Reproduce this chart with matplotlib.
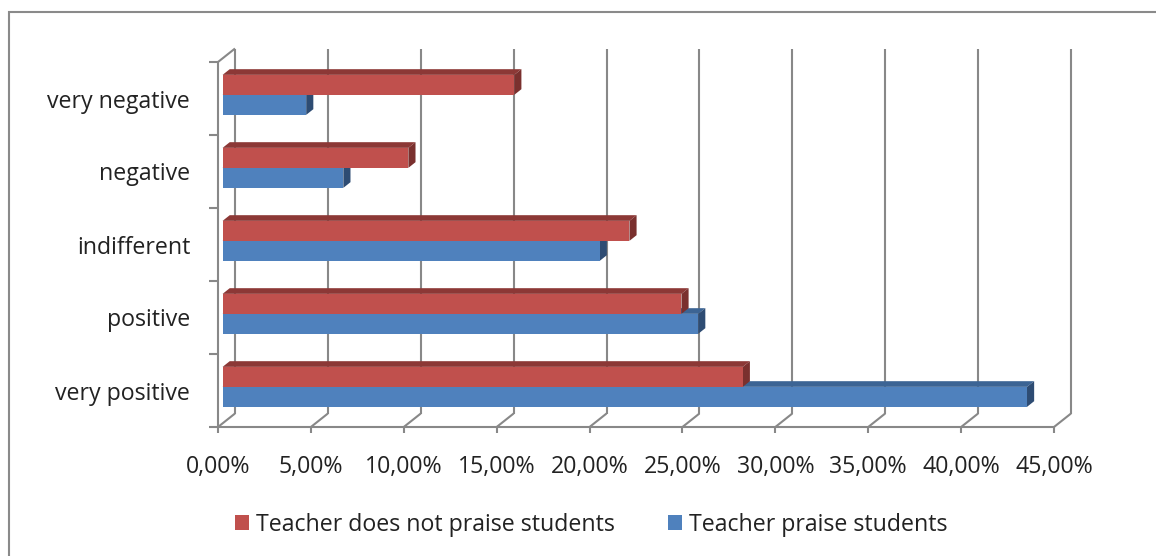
import matplotlib
matplotlib.use("Agg")
import matplotlib.pyplot as plt
from matplotlib.patches import Polygon, Rectangle
from matplotlib.ticker import FixedLocator, FuncFormatter, NullFormatter

# ---- data ----
categories = ["very positive", "positive", "indifferent", "negative", "very negative"]
praise = [43.3, 25.6, 20.3, 6.5, 4.5]            # Teacher praise students (%)
no_praise = [28.0, 24.7, 21.9, 10.0, 15.7]       # Teacher does not praise students (%)
series_names = ["Teacher does not praise students", "Teacher praise students"]
x_ticks = [0, 5, 10, 15, 20, 25, 30, 35, 40, 45]

# ---- style ----
plt.rcParams['font.family'] = ['Open Sans', 'DejaVu Sans']
FS = 16.7
GRID = '#888888'
TXT = '#222222'
RED = ('#C0504D', '#8C3836', '#7A302E')     # front, top, side
BLUE = ('#4F81BD', '#3C6494', '#2E4C73')

W, H = 1156, 556
fig = plt.figure(figsize=(W / 100, H / 100), dpi=100)
ax = fig.add_axes([218 / W, (H - 427) / H, (1054 - 218) / W, (427 - 62) / H])
xmax = x_ticks[-1]
ncat = len(categories)
ax.set_xlim(0, xmax)
ax.set_ylim(0, ncat)
for s in ax.spines.values():
    s.set_visible(False)
ax.patch.set_visible(False)

# depth of the 3D box in data units
DX = 17 / ((1054 - 218) / xmax)
DY = 13.5 / ((427 - 62) / ncat)

lk = dict(color=GRID, lw=1.5, clip_on=False, solid_capstyle='butt', zorder=1)
# back wall gridlines
for v in x_ticks:
    ax.plot([v + DX, v + DX], [DY, ncat + DY], **lk)
    ax.plot([v, v + DX], [0, DY], **lk)
# front floor edge and left wall front edge
ax.plot([0, xmax], [0, 0], **lk)
ax.plot([0, 0], [0, ncat], **lk)
ax.plot([0, DX], [ncat, ncat + DY], **lk)

# ---- bars ----
F0 = 0.27          # depth fraction where bar front face sits
BD = 0.42          # bar depth fraction
HB = 20.0 / ((427 - 62) / ncat)
bdx, bdy = BD * DX, BD * DY


def bar3d(x0, y0, length, h, cols, z):
    x1, y1 = x0 + length, y0 + h
    ax.add_patch(Polygon([(x0, y1), (x1, y1), (x1 + bdx, y1 + bdy), (x0 + bdx, y1 + bdy)],
                         closed=True, facecolor=cols[1], edgecolor='none', clip_on=False, zorder=z))
    ax.add_patch(Polygon([(x1, y0), (x1, y1), (x1 + bdx, y1 + bdy), (x1 + bdx, y0 + bdy)],
                         closed=True, facecolor=cols[2], edgecolor='none', clip_on=False, zorder=z))
    ax.add_patch(Rectangle((x0, y0), length, h, facecolor=cols[0], edgecolor='none',
                           clip_on=False, zorder=z + 0.1))


for i in range(ncat):
    yc = i + 0.5 + F0 * DY
    x0 = F0 * DX
    bar3d(x0, yc - HB, praise[i], HB, BLUE, 3 + i * 0.01)
    bar3d(x0, yc, no_praise[i], HB, RED, 3.5 + i * 0.01)

# ---- axes ticks and labels ----
ax.set_xticks(x_ticks)
ax.xaxis.set_major_formatter(FuncFormatter(lambda v, p: f"{v:.2f}".replace('.', ',') + '%'))
ax.tick_params(axis='x', direction='out', length=4.5, width=1.5, color=GRID,
               labelsize=FS, labelcolor=TXT, pad=15.5)

ax.yaxis.set_major_locator(FixedLocator(range(ncat + 1)))
ax.yaxis.set_major_formatter(NullFormatter())
ax.yaxis.set_minor_locator(FixedLocator([i + 0.5 for i in range(ncat)]))
ax.yaxis.set_minor_formatter(FuncFormatter(lambda v, p: categories[int(v)]))
ax.tick_params(axis='y', which='major', direction='out', length=6.5, width=1.5, color=GRID)
ax.tick_params(axis='y', which='minor', length=0, labelsize=FS, labelcolor=TXT, pad=20)

# ---- legend ----
handles = [Rectangle((0, 0), 1, 1, facecolor=RED[0]), Rectangle((0, 0), 1, 1, facecolor=BLUE[0])]
fig.legend(handles, series_names, loc='center', bbox_to_anchor=(591.5 / W, 31 / H),
           ncol=2, frameon=False, fontsize=FS, handlelength=0.6, handleheight=0.6,
           handletextpad=0.3, columnspacing=2.3, borderpad=0, labelcolor=TXT)

# ---- chart area border ----
fig.add_artist(Rectangle((9 / W, -0.1), 1.2, (H - 12) / H + 0.1, transform=fig.transFigure,
                         fill=False, edgecolor='#8A8A8A', lw=1.5))

fig.savefig('out.png', dpi=100)
